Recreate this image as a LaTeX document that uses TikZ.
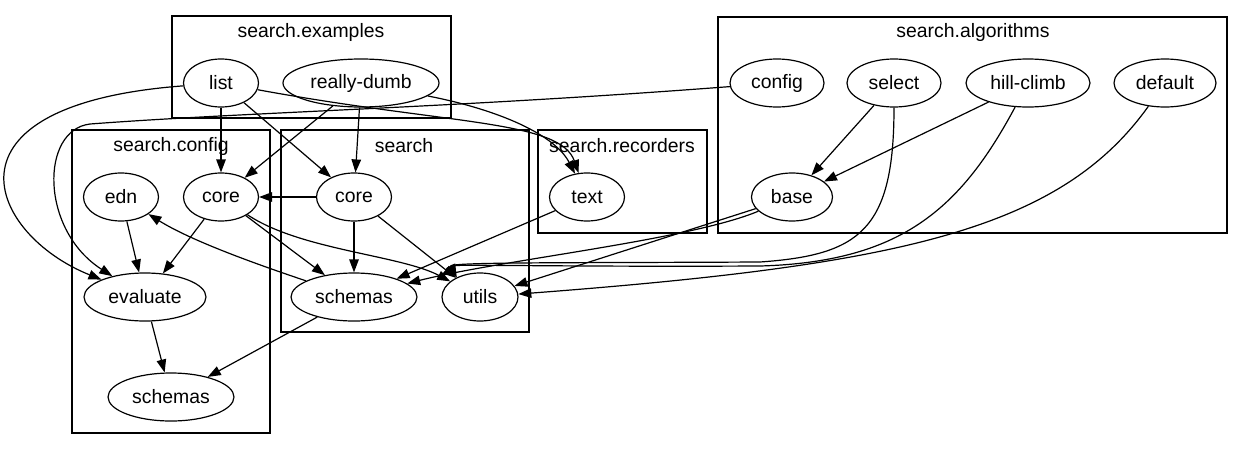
\documentclass[tikz,border=0pt]{standalone}
\usepackage{fontspec}
\setmainfont{Liberation Sans}
\usetikzlibrary{shapes.geometric,arrows.meta}
\begin{document}
\begin{tikzpicture}[x=1pt,y=-1pt,line width=1.2pt,font=\fontsize{19.4}{23}\selectfont,
  ns/.style={draw,ellipse,inner sep=0pt,minimum height=48pt},
  dep/.style={-{Triangle[length=13pt,width=9.5pt]}}]
\useasboundingbox (0,0) rectangle (1245,450);
% clusters
\draw (172,16) rectangle (451,118);
\node (examples) at (311,32) {search.examples};
\draw (72,130) rectangle (270,433);
\node (config) at (171,146) {search.config};
\draw (281,130) rectangle (529,332);
\node (search) at (404,146) {search};
\draw (538,130) rectangle (707,233);
\node (recorders) at (622,146) {search.recorders};
\draw (718,17) rectangle (1227,233);
\node (algorithms) at (973,32) {search.algorithms};
% namespaces
\node[ns,minimum width=75pt] (list) at (221,83) {list};
\node[ns,minimum width=156pt] (rdumb) at (361,83) {really-dumb};
\node[ns,minimum width=75pt] (edn) at (121,197) {edn};
\node[ns,minimum width=75pt] (ccore) at (221,197) {core};
\node[ns,minimum width=122pt] (evaluate) at (145,297) {evaluate};
\node[ns,minimum width=126pt] (cschemas) at (171,397) {schemas};
\node[ns,minimum width=75pt] (score) at (354,197) {core};
\node[ns,minimum width=126pt] (sschemas) at (354,297) {schemas};
\node[ns,minimum width=76pt] (utils) at (480,297) {utils};
\node[ns,minimum width=75pt] (rtext) at (587,197) {text};
\node[ns,minimum width=94pt] (aconfig) at (777,83) {config};
\node[ns,minimum width=94pt] (select) at (894,83) {select};
\node[ns,minimum width=124pt] (hclimb) at (1028,83) {hill-climb};
\node[ns,minimum width=102pt] (default) at (1165,83) {default};
\node[ns,minimum width=81pt] (base) at (792,197) {base};
% dependencies
\draw[dep] (list) -- (ccore);
\draw[dep] (list) -- (score);
\draw[dep] (list) .. controls (-70,105) and (-10,235) .. (evaluate);
\draw[dep] (list) .. controls (450,125) and (560,120) .. (rtext);
\draw[dep] (rdumb) -- (ccore);
\draw[dep] (rdumb) -- (score);
\draw[dep] (rdumb) .. controls (500,110) and (555,135) .. (rtext);
\draw[dep] (aconfig) .. controls (450,108) and (250,112) .. (90,124) .. controls (40,130) and (40,230) .. (evaluate);
\draw[dep] (edn) -- (evaluate);
\draw[dep] (ccore) -- (evaluate);
\draw[dep] (ccore) -- (sschemas);
\draw[dep] (ccore) .. controls (300,250) and (400,255) .. (utils);
\draw[dep] (score) -- (ccore);
\draw[dep] (score) -- (sschemas);
\draw[dep] (score) -- (utils);
\draw[dep] (sschemas) .. controls (250,262) and (190,240) .. (edn);
\draw[dep] (sschemas) -- (cschemas);
\draw[dep] (evaluate) -- (cschemas);
\draw[dep] (rtext) -- (sschemas);
\draw[dep] (base) .. controls (690,240) and (500,260) .. (sschemas);
\draw[dep] (base) -- (utils);
\draw[dep] (select) -- (base);
\draw[dep] (hclimb) -- (base);
\draw[dep] (select) .. controls (894,230) and (860,255) .. (760,262) .. controls (560,263) and (448,262) .. (utils.140);
\draw[dep] (hclimb) .. controls (960,210) and (900,262) .. (760,266) .. controls (560,267) and (450,264) .. (utils.140);
\draw[dep] (default) .. controls (1060,230) and (900,265) .. (utils);
\end{tikzpicture}
\end{document}
